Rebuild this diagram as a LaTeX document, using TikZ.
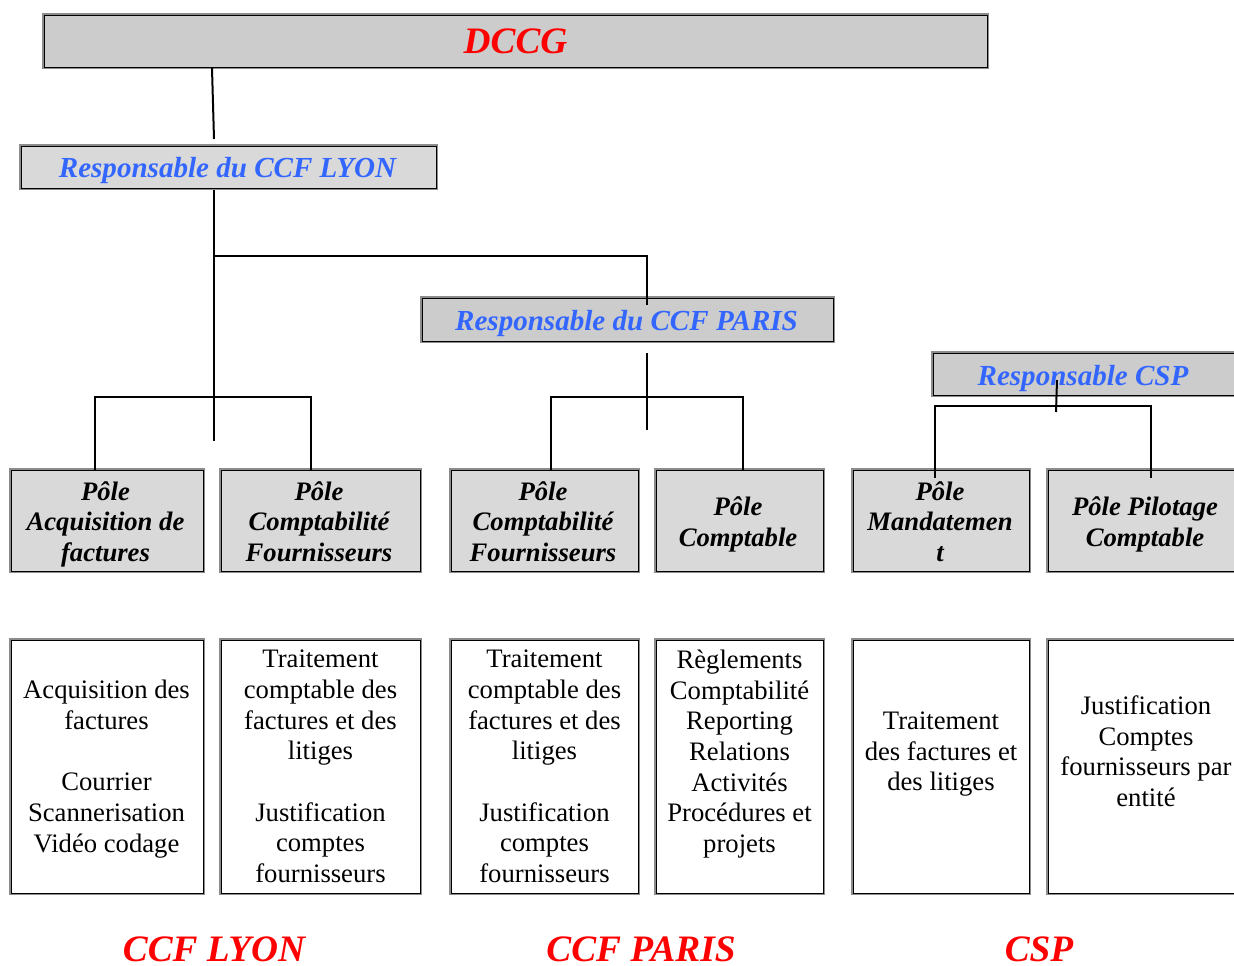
\documentclass[tikz,border=0pt]{standalone}
\usepackage{fontspec}
\setmainfont{Liberation Serif}
\definecolor{dred}{HTML}{FF0000}
\definecolor{dblue}{HTML}{3366FF}
\definecolor{gA}{HTML}{CCCCCC}
\definecolor{gB}{HTML}{D9D9D9}
\definecolor{frame}{HTML}{8C8C8C}
\newdimen\pxu \pxu=0.75pt
\tikzset{
  box/.style={rectangle, inner sep=0pt, draw=black, line width=0.6pt,
    preaction={draw=frame, line width=3pt}, align=center},
  txt/.style={inner sep=0pt, align=center},
  head/.style={box, fill=gA, text=dred, font=\fontsize{28}{32}\selectfont\bfseries\itshape},
  resp/.style={box},
  resptext/.style={txt, text=dblue, font=\fontsize{21.8}{25}\selectfont\bfseries\itshape},
  pole/.style={box, fill=gB, minimum height=101\pxu},
  poletext/.style={txt, font=\fontsize{20}{22.9}\selectfont\bfseries\itshape,
    execute at begin node=\strut, execute at end node=\strut},
  task/.style={box, fill=white, minimum height=253\pxu, font=\fontsize{20}{23}\selectfont},
  site/.style={text=dred, font=\fontsize{28}{32}\selectfont\bfseries\itshape, inner sep=0pt, anchor=base, text depth=0pt},
  link/.style={line width=1.5pt, draw=black}
}
\begin{document}
\begin{tikzpicture}[x=0.75pt, y=-0.75pt]
\useasboundingbox (0,0) rectangle (1234,965);
\fill[white] (0,0) rectangle (1234,965);

% top
\node[head, minimum width=943\pxu, minimum height=52\pxu] (dccg) at (515.5,41) {DCCG};
\node[resp, fill=gB, minimum width=415\pxu, minimum height=42\pxu] (lyon) at (228.5,167) {};
\node[resptext] (lyont) at (227.5,171) {Responsable du CCF LYON};
\node[resp, fill=gA, minimum width=411\pxu, minimum height=43\pxu] (paris) at (627.5,319.5) {};
\node[resptext] (parist) at (626.5,323.5) {Responsable du CCF PARIS};
\node[resp, fill=gA, minimum width=303\pxu, minimum height=42\pxu] (csp) at (1084.5,374) {};
\node[resptext] (cspt) at (1083,378) {Responsable CSP};

% poles
\node[pole, minimum width=192\pxu] (p1) at (107,520.5) {};
\node[pole, minimum width=199\pxu] (p2) at (320.5,520.5) {};
\node[pole, minimum width=187\pxu] (p3) at (544.5,520.5) {};
\node[pole, minimum width=167\pxu] (p4) at (739.5,520.5) {};
\node[pole, minimum width=176\pxu] (p5) at (941,520.5) {};
\node[pole, minimum width=196\pxu] (p6) at (1146,520.5) {};
\node[poletext] (p1t) at (105.5,526) {Pôle\\Acquisition de\\factures};
\node[poletext] (p2t) at (319,526) {Pôle\\Comptabilité\\Fournisseurs};
\node[poletext] (p3t) at (543,526) {Pôle\\Comptabilité\\Fournisseurs};
\node[poletext] (p4t) at (738,526) {Pôle\\Comptable};
\node[poletext] (p5t) at (940,526) {Pôle\\Mandatemen\\t};
\node[poletext] (p6t) at (1145,526) {Pôle Pilotage\\Comptable};

% tasks
\node[task, minimum width=192\pxu] (t1) at (107,766.5) {};
\node[txt, font=\fontsize{20}{23}\selectfont] (t1t) at (106.5,769) {Acquisition des\\factures\\~\\Courrier\\Scannerisation\\Vidéo codage};
\node[task, minimum width=199\pxu] (t2) at (320.5,766.5) {Traitement\\comptable des\\factures et des\\litiges\\~\\Justification\\comptes\\fournisseurs};
\node[task, minimum width=187\pxu] (t3) at (544.5,766.5) {Traitement\\comptable des\\factures et des\\litiges\\~\\Justification\\comptes\\fournisseurs};
\node[task, minimum width=167\pxu] (t4) at (739.5,766.5) {Règlements\\Comptabilité\\Reporting\\Relations\\Activités\\Procédures et\\projets\\~};
\node[task, minimum width=176\pxu] (t5) at (941,766.5) {Traitement\\des factures et\\des litiges\\~};
\node[task, minimum width=196\pxu] (t6) at (1146,766.5) {Justification\\Comptes\\fournisseurs par\\entité\\~};

% site labels
\node[site] (s1) at (214,961) {CCF LYON};
\node[site] (s2) at (641,961) {CCF PARIS};
\node[site] (s3) at (1039,961) {CSP};

% junction coordinates
\coordinate (a1) at (212,68);
\coordinate (a2) at (214,139);
\coordinate (b1) at (214,190);
\coordinate (b2) at (214,441);
\coordinate (b3) at (214,256);
\coordinate (b4) at (647,256);
\coordinate (b5) at (647,305);
\coordinate (l1) at (95,397);
\coordinate (l2) at (311,397);
\coordinate (c1) at (647,353);
\coordinate (c2) at (647,430);
\coordinate (m1) at (551,397);
\coordinate (m2) at (743,397);
\coordinate (d1) at (1057,380);
\coordinate (d2) at (1056,412);
\coordinate (n1) at (935,406);
\coordinate (n2) at (1151,406);

% connectors
\draw[link] (a1) -- (a2);
\draw[link] (b1) -- (b2);
\draw[link] (b3) -- (b4) -- (b5);
\draw[link] (p1.north -| l1) -- (l1) -- (l2) -- (p2.north -| l2);
\draw[link] (c1) -- (c2);
\draw[link] (p3.north -| m1) -- (m1) -- (m2) -- (p4.north -| m2);
\draw[link] (d1) -- (d2);
\draw[link] ([yshift=-6pt]p5.north -| n1) -- (n1) -- (n2) -- ([yshift=-6pt]p6.north -| n2);
\end{tikzpicture}
\end{document}
